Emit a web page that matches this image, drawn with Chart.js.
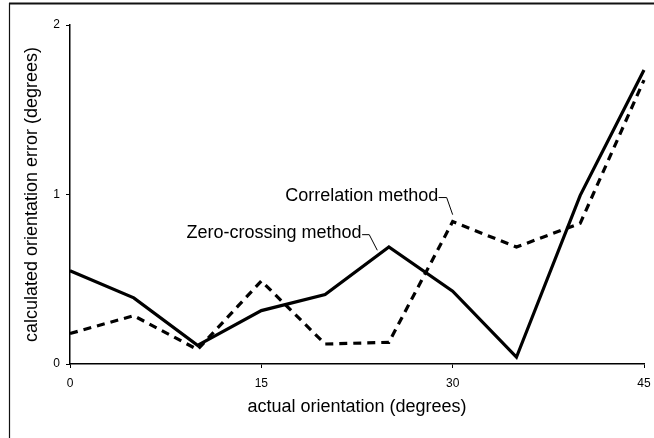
<!DOCTYPE html>
<html>
<head>
<meta charset="utf-8">
<script src="https://cdn.jsdelivr.net/npm/chart.js@4/dist/chart.umd.min.js"></script>
<style>
  html, body { margin: 0; padding: 0; background: #ffffff; }
  #wrap { position: relative; width: 654px; height: 438px; }
</style>
</head>
<body>
<div id="wrap"><canvas id="c" width="654" height="438"></canvas></div>
<script>
// ---- data ----
const orientations = [0, 5, 10, 15, 20, 25, 30, 35, 40, 45];
const zeroCrossing = [0.55, 0.39, 0.11, 0.315, 0.41, 0.69, 0.43, 0.04, 0.995, 1.735];
const correlation  = [0.18, 0.285, 0.085, 0.49, 0.118, 0.128, 0.84, 0.69, 0.83, 1.675];
const xTicks = [0, 15, 30, 45];
const yTicks = [0, 1, 2];
const seriesNames = ['Zero-crossing method', 'Correlation method'];
const xTitle = 'actual orientation (degrees)';
const yTitle = 'calculated orientation error (degrees)';

// label callouts (in data units)
const callouts = [
  { text: seriesNames[1], tx: 28.87, ty: 0.989, leader: [[28.9, 0.982], [29.53, 0.982], [30.0, 0.881]] },
  { text: seriesNames[0], tx: 22.86, ty: 0.773, leader: [[22.9, 0.763], [23.46, 0.763], [24.09, 0.671]] }
];

const FONT = "'Liberation Sans', Arial, Helvetica, sans-serif";

const pts = (ys) => orientations.map((x, i) => ({ x: x, y: ys[i] }));

const framePlugin = {
  id: 'frame',
  afterDraw(chart) {
    const ctx = chart.ctx;
    ctx.save();
    ctx.strokeStyle = '#111';
    ctx.lineWidth = 2;
    ctx.beginPath();
    ctx.moveTo(9, 3.5);
    ctx.lineTo(654, 3.5);
    ctx.stroke();
    ctx.lineWidth = 1.2;
    ctx.beginPath();
    ctx.moveTo(9.5, 3);
    ctx.lineTo(9.5, 438);
    ctx.stroke();
    ctx.restore();
  }
};

const calloutPlugin = {
  id: 'callouts',
  afterDatasetsDraw(chart) {
    const ctx = chart.ctx;
    const xs = chart.scales.x, ys = chart.scales.y;
    ctx.save();
    ctx.font = '18px ' + FONT;
    ctx.fillStyle = '#000';
    ctx.textAlign = 'right';
    ctx.textBaseline = 'middle';
    ctx.strokeStyle = '#000';
    ctx.lineWidth = 1;
    callouts.forEach(c => {
      ctx.fillText(c.text, xs.getPixelForValue(c.tx), ys.getPixelForValue(c.ty));
      ctx.beginPath();
      c.leader.forEach((p, i) => {
        const px = xs.getPixelForValue(p[0]), py = ys.getPixelForValue(p[1]);
        if (i === 0) ctx.moveTo(px, py); else ctx.lineTo(px, py);
      });
      ctx.stroke();
    });
    ctx.restore();
  }
};

new Chart(document.getElementById('c'), {
  type: 'line',
  data: {
    datasets: [
      {
        label: seriesNames[0],
        data: pts(zeroCrossing),
        borderColor: '#000',
        borderWidth: 3.2,
        pointRadius: 0,
        tension: 0,
        clip: false,
        borderJoinStyle: 'miter'
      },
      {
        label: seriesNames[1],
        data: pts(correlation),
        borderColor: '#000',
        borderWidth: 3.2,
        borderDash: [8, 6],
        pointRadius: 0,
        tension: 0,
        clip: false
      }
    ]
  },
  options: {
    responsive: false,
    animation: false,
    devicePixelRatio: 1,
    layout: { padding: { left: 0, right: 10, top: 25, bottom: 0 } },
    plugins: { legend: { display: false }, tooltip: { enabled: false } },
    scales: {
      x: {
        type: 'linear',
        min: 0, max: 45,
        afterBuildTicks(scale) { scale.ticks = xTicks.map(v => ({ value: v })); },
        afterFit(scale) { scale.height = 74; scale.paddingLeft = 0; scale.paddingRight = 0; },
        border: { display: true, color: '#000', width: 1.5 },
        grid: { display: true, drawOnChartArea: false, drawTicks: true, tickLength: 4, color: '#000', tickWidth: 1 },
        ticks: { color: '#000', font: { family: FONT, size: 12 }, padding: 8, maxRotation: 0 },
        title: { display: true, text: xTitle, color: '#000', font: { family: FONT, size: 18 }, padding: { top: 0, bottom: 20 } }
      },
      y: {
        type: 'linear',
        min: 0, max: 2,
        afterBuildTicks(scale) { scale.ticks = yTicks.map(v => ({ value: v })); },
        afterFit(scale) { scale.width = 70; scale.paddingTop = 0; scale.paddingBottom = 0; },
        border: { display: true, color: '#000', width: 1.5 },
        grid: { display: true, drawOnChartArea: false, drawTicks: true, tickLength: 4, color: '#000', tickWidth: 1 },
        ticks: { color: '#000', font: { family: FONT, size: 12 }, padding: 6 },
        title: { display: true, text: yTitle, color: '#000', font: { family: FONT, size: 18 }, padding: { top: 21, bottom: 0 } }
      }
    }
  },
  plugins: [framePlugin, calloutPlugin]
});
</script>
</body>
</html>
